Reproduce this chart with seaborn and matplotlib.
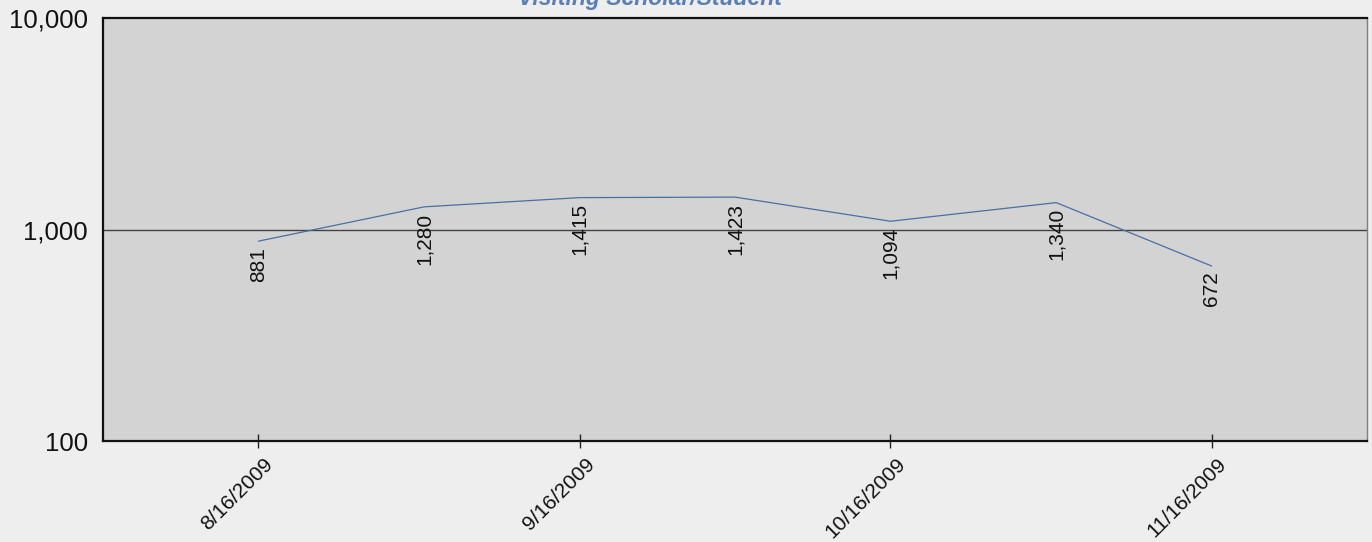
import matplotlib
matplotlib.use("Agg")
import matplotlib.pyplot as plt
import matplotlib.transforms as mtransforms
from matplotlib.ticker import FixedLocator, FuncFormatter, NullLocator
import seaborn as sns
import pandas as pd
import datetime as dt

# Semi-monthly counts for the visiting scholar/student group
dates = ["2009-08-16", "2009-09-01", "2009-09-16", "2009-10-01",
         "2009-10-16", "2009-11-01", "2009-11-16"]
counts = [881, 1280, 1415, 1423, 1094, 1340, 672]
tick_dates = ["2009-08-16", "2009-09-16", "2009-10-16", "2009-11-16"]
tick_labels = ["8/16/2009", "9/16/2009", "10/16/2009", "11/16/2009"]
y_ticks = [100, 1000, 10000]
title = "Visiting Scholar/Student"

df = pd.DataFrame({"date": pd.to_datetime(dates), "count": counts})

sns.set_style("white", {"axes.facecolor": "#d3d3d3", "figure.facecolor": "#eeeeee"})
plt.rcParams["font.family"] = ["Liberation Sans", "DejaVu Sans"]

fig = plt.figure(figsize=(13.72, 5.42), dpi=100)
fig.patch.set_facecolor("#eeeeee")
ax = fig.add_axes([0.0751, 0.1863, 0.9213, 0.7805])
ax.set_facecolor("#d3d3d3")

sns.lineplot(data=df, x="date", y="count", ax=ax, color="#4a6fa5", linewidth=0.9)

ax.set_yscale("log")
ax.set_ylim(100, 10000)
ax.set_xlim(dt.datetime(2009, 8, 1), dt.datetime(2009, 12, 1))

# y axis: decades only, one reference line at 1,000
ax.yaxis.set_major_locator(FixedLocator(y_ticks))
ax.yaxis.set_minor_locator(NullLocator())
ax.yaxis.set_major_formatter(FuncFormatter(lambda v, p: f"{int(round(v)):,}"))
ax.tick_params(axis="y", left=False, length=0, pad=11, labelsize=18.5,
               labelcolor="#111111")
ax.axhline(1000, color="#444444", linewidth=1.0, zorder=1)

# x axis: date ticks crossing the baseline
ax.set_xticks(pd.to_datetime(tick_dates))
ax.set_xticklabels(tick_labels, rotation=45, ha="right", va="center",
                   rotation_mode="anchor")
ax.xaxis.set_minor_locator(NullLocator())
ax.tick_params(axis="x", bottom=True, direction="inout", length=9.5, width=1,
               color="#222222", pad=10, labelsize=15, labelcolor="#111111")
shift = mtransforms.ScaledTranslation(12 / 100, 0, fig.dpi_scale_trans)
for lbl in ax.get_xticklabels():
    lbl.set_transform(lbl.get_transform() + shift)

ax.set_xlabel("")
ax.set_ylabel("")

for side in ("left", "bottom", "top"):
    ax.spines[side].set_color("#111111")
    ax.spines[side].set_linewidth(1.6)
ax.spines["right"].set_color("#808080")
ax.spines["right"].set_linewidth(1.0)

# value labels under each point, reading upward
for d, v in zip(df["date"], df["count"]):
    ax.annotate(f"{v:,}", xy=(d, v), xytext=(0, -4), textcoords="offset points",
                rotation=90, ha="center", va="top", fontsize=15, color="#111111")

fig.text(650 / 1372, 1 - 5 / 542, title, ha="center", va="baseline",
         fontsize=16.5, fontweight="bold", fontstyle="italic", color="#5a7fb5")

fig.savefig("out.png", dpi=100, facecolor=fig.get_facecolor())
